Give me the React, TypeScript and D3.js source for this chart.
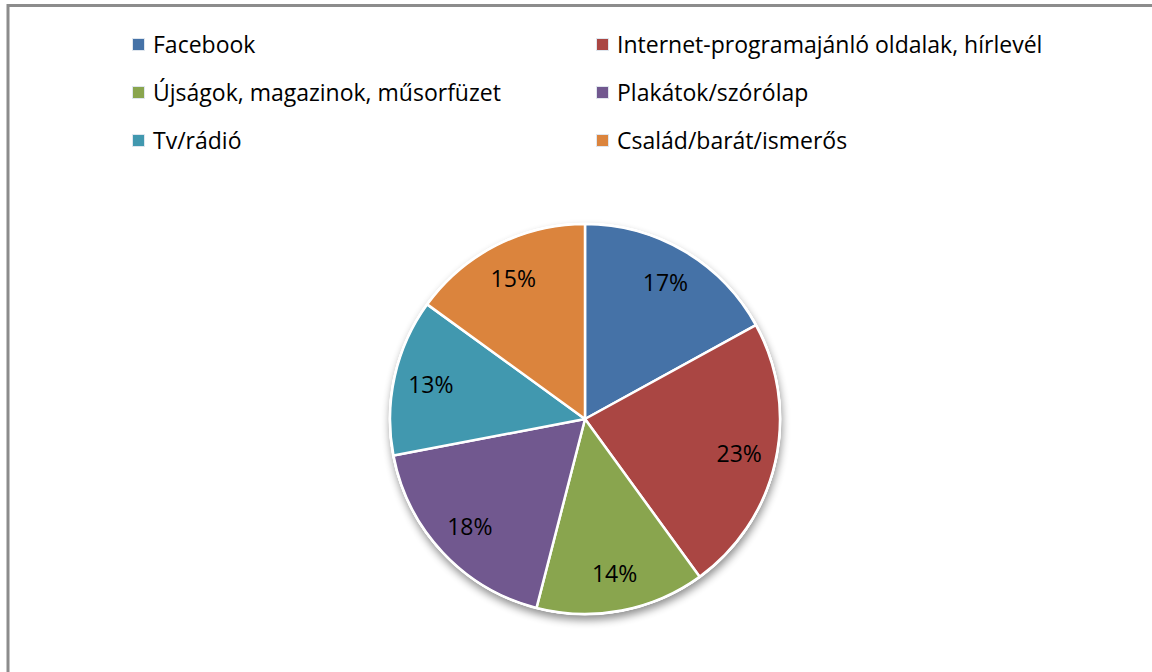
import React from "react";
import * as d3 from "d3";

const categories = [
  "Facebook",
  "Internet-programajánló oldalak, hírlevél",
  "Újságok, magazinok, műsorfüzet",
  "Plakátok/szórólap",
  "Tv/rádió",
  "Család/barát/ismerős",
];
const values = [17, 23, 14, 18, 13, 15];
const colors = ["#4572A7", "#AA4643", "#89A54E", "#71588F", "#4198AF", "#DB843D"];

const W = 1152;
const H = 672;
const cx = 585;
const cy = 419;
const R = 195;
const FONT = "'Open Sans', 'Noto Sans', sans-serif";

export default function App() {
  const pie = d3.pie<number>().sort(null).value((d) => d);
  const arcs = pie(values);
  const arcGen = d3.arc<d3.PieArcDatum<number>>().innerRadius(0).outerRadius(R);
  const labelArc = d3.arc<d3.PieArcDatum<number>>().innerRadius(158).outerRadius(158);
  const total = d3.sum(values);

  const legendCols = [132, 596];
  const legendRows = [45, 93, 141];

  return (
    <svg
      width={W}
      height={H}
      style={{ position: "absolute", left: 0, top: 0, background: "#fff" }}
    >
      <defs>
        <filter id="shadow" x="-20%" y="-20%" width="140%" height="140%">
          <feGaussianBlur in="SourceAlpha" stdDeviation="4" />
          <feOffset dx="1" dy="5" result="ob" />
          <feComponentTransfer>
            <feFuncA type="linear" slope="0.45" />
          </feComponentTransfer>
          <feMerge>
            <feMergeNode />
            <feMergeNode in="SourceGraphic" />
          </feMerge>
        </filter>
      </defs>
      <rect x={0} y={0} width={W} height={H} fill="#fff" />
      {/* frame */}
      <line x1={8} y1={5.5} x2={W} y2={5.5} stroke="#8c8c8c" strokeWidth={3} />
      <line x1={8} y1={4} x2={8} y2={H} stroke="#8c8c8c" strokeWidth={3} />

      {/* legend */}
      {categories.map((c, i) => {
        const x = legendCols[i % 2];
        const y = legendRows[Math.floor(i / 2)];
        return (
          <g key={c}>
            <rect x={x + 0.5} y={y - 6.5} width={12} height={12} fill={colors[i]} stroke="#dfe6ee" strokeWidth={1} />
            <text x={x + 21} y={y} dy="0.36em" fontFamily={FONT} fontSize={23} fill="#000">
              {c}
            </text>
          </g>
        );
      })}

      {/* pie */}
      <g transform={`translate(${cx},${cy})`}>
        <circle r={R + 1} fill="#fff" filter="url(#shadow)" />
        {arcs.map((a, i) => (
          <path key={i} d={arcGen(a) || ""} fill={colors[i]} stroke="#fff" strokeWidth={2.5} strokeLinejoin="round" />
        ))}
        <circle r={R + 0.5} fill="none" stroke="#fff" strokeWidth={2} />
        {arcs.map((a, i) => {
          const [lx, ly] = labelArc.centroid(a);
          return (
            <text
              key={"l" + i}
              x={lx}
              y={ly}
              dy="0.36em"
              textAnchor="middle"
              fontFamily={FONT}
              fontSize={23}
              fill="#000"
            >
              {Math.round((values[i] / total) * 100)}%
            </text>
          );
        })}
      </g>
    </svg>
  );
}
